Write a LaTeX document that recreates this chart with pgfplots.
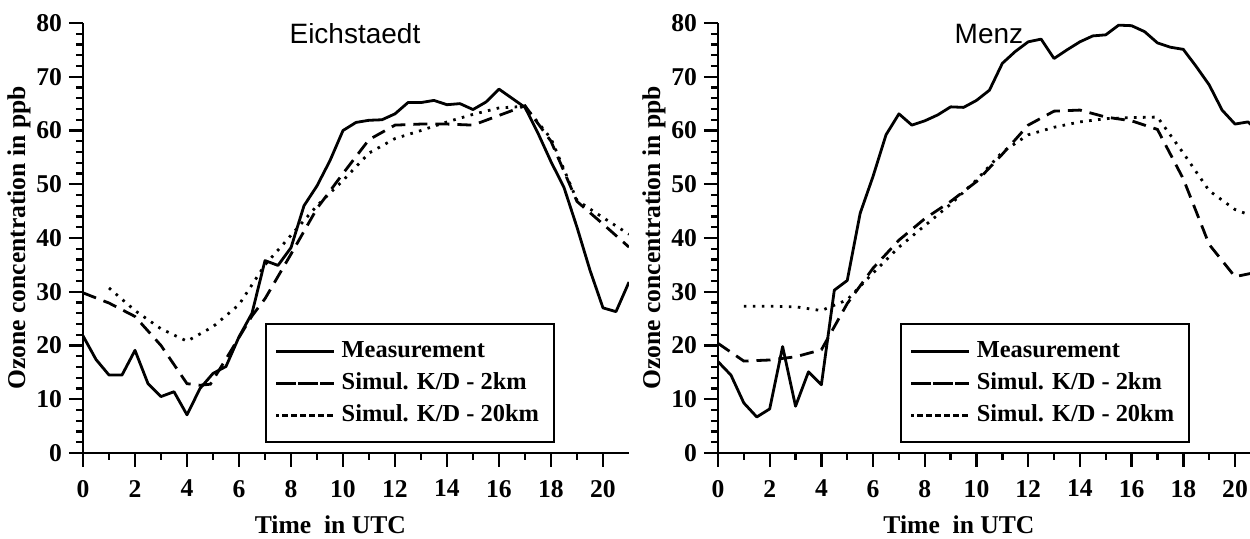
\documentclass[border=0pt]{standalone}
\usepackage{fontspec}
\setmainfont{Liberation Serif}
\newfontfamily\arialfont{Liberation Sans}
\usepackage{pgfplots}
\pgfplotsset{compat=1.18}
\pgfplotsset{
  ozone/.style={
    scale only axis,
    height=215pt,
    xmin=0, ymin=0, ymax=80,
    enlargelimits=false,
    axis lines=left,
    axis line style={line width=1.2pt, -},
    tick align=outside,
    major tick length=7pt, minor tick length=3.5pt,
    every tick/.style={black, line width=1.2pt},
    xtick={0,2,...,20}, minor x tick num=1,
    ytick={0,10,...,80}, minor y tick num=4,
    tick label style={font=\bfseries\fontsize{12.8}{14}\selectfont},
    xticklabel style={yshift=-3pt},
    /pgf/number format/assume math mode=true,
    xlabel={Time~~in UTC}, ylabel={Ozone concentration in ppb},
    label style={font=\bfseries\fontsize{12.8}{14}\selectfont},
    xlabel style={at={([yshift=-36pt]axis description cs:0.453,0)}, anchor=center},
    ylabel style={at={([xshift=-32pt]axis description cs:0,0.5)}, anchor=center},
    clip=true,
    legend image code/.code={\path (0pt,0pt) -- (29pt,0pt);
      \draw[##1, line width=1.6pt] (3pt,0pt) -- (29pt,0pt);},
    legend cell align=left,
    legend style={anchor=south west, draw=black, line width=0.9pt, fill=white,
      font=\bfseries\fontsize{12.2}{14}\selectfont,
      inner xsep=4.5pt, inner ysep=5.5pt,
      nodes={inner xsep=3pt, inner ysep=2pt, text height=9pt, text depth=3pt}},
  },
  meas/.style={black, line width=1.4pt, line join=round},
  sim2/.style={black, line width=1.4pt, dash pattern=on 7pt off 4pt},
  sim20/.style={black, line width=1.4pt, dash pattern=on 1.3pt off 3.2pt},
}
\begin{document}
\begin{tikzpicture}
\path[use as bounding box] (0,0) rectangle (625pt,269.5pt);
% ---------------- Eichstaedt ----------------
\begin{axis}[ozone, at={(41.5pt,43pt)}, anchor=south west, width=273pt, xmax=21,
  legend style={at={(0.333,0.023)}}]
\addplot[meas] coordinates {
(0,21.8) (0.5,17.4) (1,14.5) (1.5,14.5) (2,19.1) (2.5,12.9) (3,10.5) (3.5,11.4)
(4,7.1) (4.5,12.0) (5,14.8) (5.5,16.1) (6,21.6) (6.5,26.0) (7,35.8) (7.5,34.9)
(8,38.2) (8.5,46.0) (9,49.7) (9.5,54.4) (10,60.0) (10.5,61.5) (11,61.9) (11.5,62.0)
(12,63.1) (12.5,65.2) (13,65.2) (13.5,65.6) (14,64.8) (14.5,65.0) (15,63.9) (15.5,65.3)
(16,67.7) (16.5,66.0) (17,64.3) (17.5,59.5) (18,54.2) (18.5,49.4) (19,42.0) (19.5,34.0)
(20,27.0) (20.5,26.3) (21,31.8)};
\addlegendentry{Measurement}
\addplot[sim2] coordinates {
(0,29.8) (1,27.9) (2,25.4) (3,20.0) (4,12.9) (4.5,12.6) (4.9,12.8) (5.5,17.5) (6,21.5)
(6.5,25.5) (7,28.7) (8,37.0) (9,45.5) (10,52.0) (11,58.3) (12,61.0) (13,61.2)
(14,61.2) (15,61.0) (16,62.8) (17,64.6) (18,58.0) (19,46.8) (20,42.6) (21,38.3)};
\addlegendentry{Simul. K/D - 2km}
\addplot[sim20] coordinates {
(1,30.7) (2,26.5) (3,23.1) (4,20.8) (5,23.5) (6,27.6) (7,35.0) (8,40.5) (9,46.0)
(10,50.7) (11,55.8) (12,58.5) (13,60.0) (14,61.6) (15,63.0) (16,64.2) (17,64.5)
(18,58.5) (19,47.0) (20,43.8) (21,40.7)};
\addlegendentry{Simul. K/D - 20km}
\node[anchor=base, font=\arialfont\fontsize{14}{16}\selectfont] at (axis cs:10.46,76.1) {Eichstaedt};
\end{axis}
% ---------------- Menz ----------------
\begin{axis}[ozone, at={(359pt,43pt)}, anchor=south west, width=266pt, xmax=20.58,
  legend style={at={(0.342,0.023)}}]
\addplot[meas] coordinates {
(0,17.0) (0.5,14.5) (1,9.3) (1.5,6.7) (2,8.2) (2.5,19.8) (3,8.7) (3.5,15.1)
(4,12.7) (4.5,30.3) (5,32.1) (5.5,44.6) (6,51.5) (6.5,59.2) (7,63.1) (7.5,61.0)
(8,61.8) (8.5,62.9) (9,64.4) (9.5,64.3) (10,65.6) (10.5,67.5) (11,72.5) (11.5,74.7)
(12,76.5) (12.5,77.0) (13,73.4) (13.5,75.0) (14,76.5) (14.5,77.6) (15,77.8) (15.5,79.6)
(16,79.5) (16.5,78.4) (17,76.3) (17.5,75.5) (18,75.1) (18.5,71.9) (19,68.5) (19.5,63.8)
(20,61.2) (20.5,61.6) (21,59.5)};
\addlegendentry{Measurement}
\addplot[sim2] coordinates {
(0,20.4) (1,17.1) (2,17.3) (3,17.9) (4,19.2) (5,27.8) (6,34.4) (7,39.6) (8,43.6)
(9,46.8) (10,50.5) (11,55.6) (12,61.0) (13,63.6) (14,63.8) (15,62.5) (16,61.8)
(17,60.2) (18,51.0) (19,38.8) (20,32.8) (21,33.8)};
\addlegendentry{Simul. K/D - 2km}
\addplot[sim20] coordinates {
(1,27.3) (2,27.3) (3,27.2) (4,26.5) (5,28.5) (6,33.5) (7,38.3) (8,42.3) (9,46.3)
(10,50.8) (11,56.0) (12,59.2) (13,60.6) (14,61.6) (15,62.2) (16,62.4) (17,62.5)
(18,55.8) (19,48.8) (20,45.3) (21,43.5)};
\addlegendentry{Simul. K/D - 20km}
\node[anchor=base, font=\arialfont\fontsize{14}{16}\selectfont] at (axis cs:10.48,76.2) {Menz};
\end{axis}
\end{tikzpicture}
\end{document}
